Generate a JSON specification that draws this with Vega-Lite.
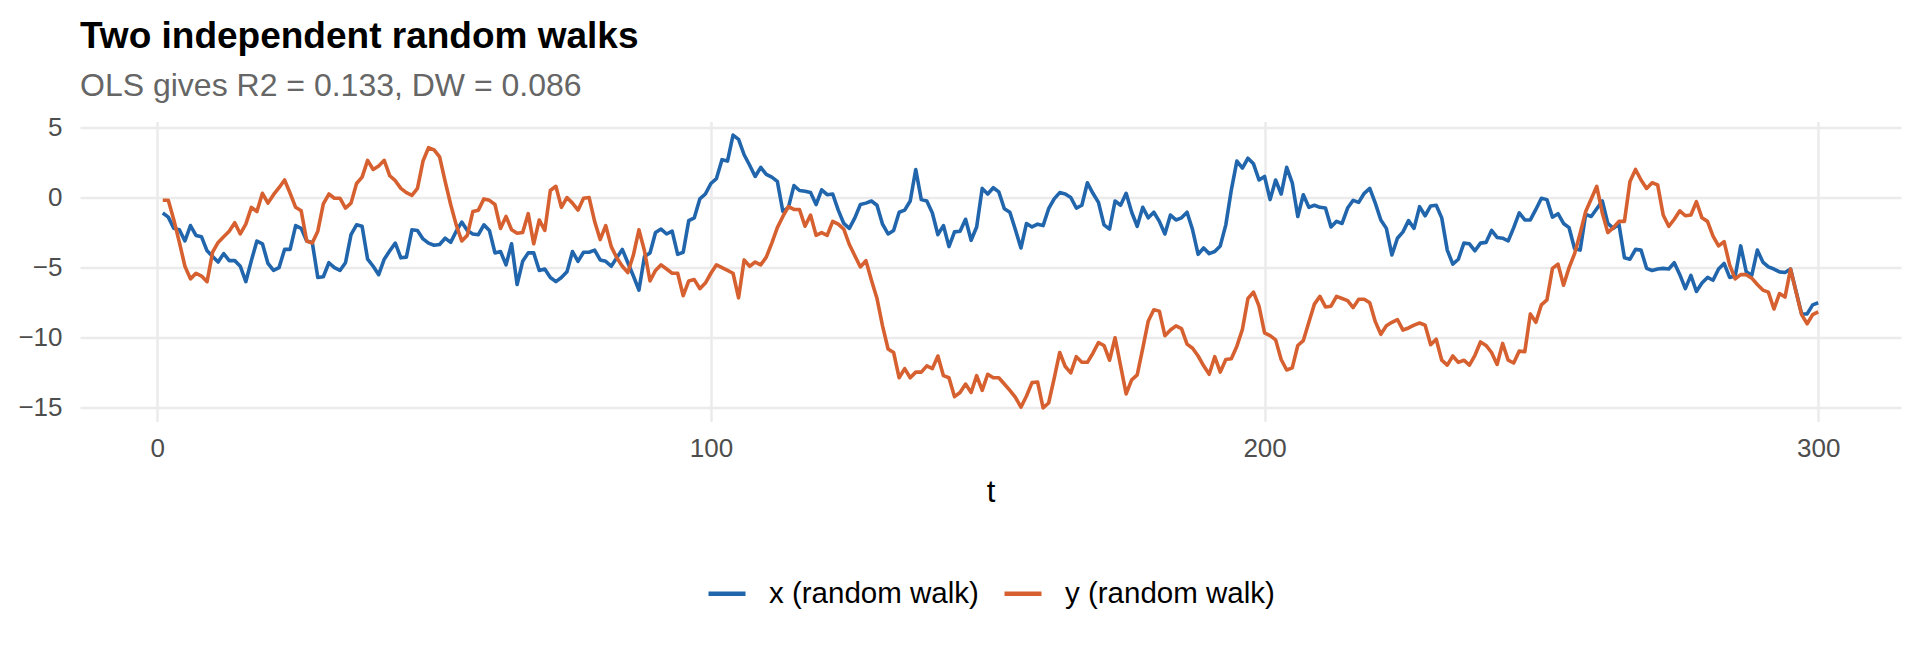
{
"$schema": "https://vega.github.io/schema/vega-lite/v6.json",
"width": 1821, "height": 300,
"autosize": {"type": "none"},
"padding": {"left": 80, "top": 121.5, "right": 19, "bottom": 230.5},
"background": "white",
"title": {"text": "Two independent random walks", "subtitle": "OLS gives R2 = 0.133, DW = 0.086", "anchor": "start", "frame": "group", "font": "Liberation Sans", "fontSize": 37, "fontWeight": "bold", "color": "#000000", "subtitleFont": "Liberation Sans", "subtitleFontSize": 32, "subtitleColor": "#666666", "subtitlePadding": 15, "offset": 11},
"data": {"values": [
{"t":1,"x":-1.1,"y":-0.2},{"t":2,"x":-1.4,"y":-0.2},{"t":3,"x":-2.2,"y":-1.6},{"t":4,"x":-2.3,"y":-3.2},{"t":5,"x":-3.1,"y":-4.9},
{"t":6,"x":-2.0,"y":-5.8},{"t":7,"x":-2.7,"y":-5.4},{"t":8,"x":-2.8,"y":-5.6},{"t":9,"x":-3.8,"y":-6.0},{"t":10,"x":-4.2,"y":-3.9},
{"t":11,"x":-4.6,"y":-3.2},{"t":12,"x":-4.0,"y":-2.8},{"t":13,"x":-4.5,"y":-2.4},{"t":14,"x":-4.5,"y":-1.8},{"t":15,"x":-4.9,"y":-2.6},
{"t":16,"x":-6.0,"y":-1.9},{"t":17,"x":-4.5,"y":-0.7},{"t":18,"x":-3.1,"y":-1.0},{"t":19,"x":-3.3,"y":0.3},{"t":20,"x":-4.7,"y":-0.4},
{"t":21,"x":-5.2,"y":0.2},{"t":22,"x":-5.0,"y":0.7},{"t":23,"x":-3.7,"y":1.25},{"t":24,"x":-3.7,"y":0.3},{"t":25,"x":-2.0,"y":-0.7},
{"t":26,"x":-2.2,"y":-0.95},{"t":27,"x":-3.1,"y":-3.1},{"t":28,"x":-3.2,"y":-3.25},{"t":29,"x":-5.7,"y":-2.4},{"t":30,"x":-5.65,"y":-0.45},
{"t":31,"x":-4.65,"y":0.25},{"t":32,"x":-5.0,"y":-0.05},{"t":33,"x":-5.2,"y":-0.05},{"t":34,"x":-4.65,"y":-0.75},{"t":35,"x":-2.65,"y":-0.4},
{"t":36,"x":-1.95,"y":1.0},{"t":37,"x":-2.05,"y":1.45},{"t":38,"x":-4.4,"y":2.65},{"t":39,"x":-4.9,"y":2.0},{"t":40,"x":-5.5,"y":2.25},
{"t":41,"x":-4.4,"y":2.65},{"t":42,"x":-3.8,"y":1.55},{"t":43,"x":-3.25,"y":1.2},{"t":44,"x":-4.3,"y":0.65},{"t":45,"x":-4.25,"y":0.35},
{"t":46,"x":-2.3,"y":0.15},{"t":47,"x":-2.35,"y":0.65},{"t":48,"x":-2.95,"y":2.6},{"t":49,"x":-3.25,"y":3.55},{"t":50,"x":-3.4,"y":3.4},
{"t":51,"x":-3.35,"y":2.9},{"t":52,"x":-2.9,"y":1.15},{"t":53,"x":-3.2,"y":-0.5},{"t":54,"x":-2.4,"y":-1.95},{"t":55,"x":-1.75,"y":-3.1},
{"t":56,"x":-2.35,"y":-2.7},{"t":57,"x":-2.6,"y":-1.0},{"t":58,"x":-2.65,"y":-0.9},{"t":59,"x":-1.95,"y":-0.1},{"t":60,"x":-2.35,"y":-0.2},
{"t":61,"x":-3.95,"y":-0.5},{"t":62,"x":-3.85,"y":-2.2},{"t":63,"x":-4.8,"y":-1.35},{"t":64,"x":-3.3,"y":-2.3},{"t":65,"x":-6.2,"y":-2.55},
{"t":66,"x":-4.55,"y":-2.5},{"t":67,"x":-3.95,"y":-1.15},{"t":68,"x":-3.95,"y":-3.3},{"t":69,"x":-5.2,"y":-1.6},{"t":70,"x":-5.1,"y":-2.35},
{"t":71,"x":-5.7,"y":0.5},{"t":72,"x":-6.0,"y":0.8},{"t":73,"x":-5.7,"y":-0.7},{"t":74,"x":-5.3,"y":0.0},{"t":75,"x":-3.85,"y":-0.4},
{"t":76,"x":-4.55,"y":-0.9},{"t":77,"x":-3.9,"y":-0.05},{"t":78,"x":-3.9,"y":0.0},{"t":79,"x":-3.75,"y":-1.7},{"t":80,"x":-4.45,"y":-3.0},
{"t":81,"x":-4.55,"y":-2.0},{"t":82,"x":-4.9,"y":-3.5},{"t":83,"x":-4.3,"y":-4.3},{"t":84,"x":-3.7,"y":-4.9},{"t":85,"x":-4.65,"y":-5.35},
{"t":86,"x":-5.6,"y":-4.1},{"t":87,"x":-6.6,"y":-2.3},{"t":88,"x":-4.2,"y":-3.8},{"t":89,"x":-3.95,"y":-5.95},{"t":90,"x":-2.5,"y":-5.2},
{"t":91,"x":-2.25,"y":-4.8},{"t":92,"x":-2.6,"y":-5.1},{"t":93,"x":-2.4,"y":-5.4},{"t":94,"x":-4.05,"y":-5.4},{"t":95,"x":-3.9,"y":-7.0},
{"t":96,"x":-1.65,"y":-5.95},{"t":97,"x":-1.45,"y":-5.85},{"t":98,"x":-0.1,"y":-6.5},{"t":99,"x":0.25,"y":-6.1},{"t":100,"x":1.0,"y":-5.4},
{"t":101,"x":1.35,"y":-4.8},{"t":102,"x":2.7,"y":-5.0},{"t":103,"x":2.6,"y":-5.2},{"t":104,"x":4.45,"y":-5.4},{"t":105,"x":4.15,"y":-7.15},
{"t":106,"x":3.05,"y":-4.45},{"t":107,"x":2.3,"y":-4.9},{"t":108,"x":1.5,"y":-4.6},{"t":109,"x":2.15,"y":-4.8},{"t":110,"x":1.65,"y":-4.25},
{"t":111,"x":1.45,"y":-3.25},{"t":112,"x":1.15,"y":-2.15},{"t":113,"x":-1.0,"y":-1.35},{"t":114,"x":-0.7,"y":-0.65},{"t":115,"x":0.85,"y":-0.85},
{"t":116,"x":0.5,"y":-0.85},{"t":117,"x":0.45,"y":-2.05},{"t":118,"x":0.35,"y":-1.25},{"t":119,"x":-0.5,"y":-2.7},{"t":120,"x":0.55,"y":-2.5},
{"t":121,"x":0.2,"y":-2.7},{"t":122,"x":0.25,"y":-1.7},{"t":123,"x":-0.9,"y":-1.9},{"t":124,"x":-1.85,"y":-2.25},{"t":125,"x":-2.2,"y":-3.35},
{"t":126,"x":-1.45,"y":-4.15},{"t":127,"x":-0.5,"y":-4.95},{"t":128,"x":-0.4,"y":-4.5},{"t":129,"x":-0.25,"y":-5.9},{"t":130,"x":-0.55,"y":-7.2},
{"t":131,"x":-1.9,"y":-9.15},{"t":132,"x":-2.6,"y":-10.8},{"t":133,"x":-2.35,"y":-11.05},{"t":134,"x":-1.05,"y":-12.85},{"t":135,"x":-0.9,"y":-12.2},
{"t":136,"x":-0.25,"y":-12.85},{"t":137,"x":2.0,"y":-12.45},{"t":138,"x":-0.15,"y":-12.45},{"t":139,"x":-0.25,"y":-12.0},{"t":140,"x":-1.1,"y":-12.2},
{"t":141,"x":-2.65,"y":-11.3},{"t":142,"x":-2.0,"y":-12.7},{"t":143,"x":-3.5,"y":-12.85},{"t":144,"x":-2.45,"y":-14.2},{"t":145,"x":-2.4,"y":-13.9},
{"t":146,"x":-1.55,"y":-13.3},{"t":147,"x":-3.05,"y":-13.9},{"t":148,"x":-2.1,"y":-12.7},{"t":149,"x":0.65,"y":-13.75},{"t":150,"x":0.25,"y":-12.6},
{"t":151,"x":0.7,"y":-12.85},{"t":152,"x":0.4,"y":-12.85},{"t":153,"x":-0.8,"y":-13.3},{"t":154,"x":-1.05,"y":-13.75},{"t":155,"x":-2.3,"y":-14.25},
{"t":156,"x":-3.6,"y":-14.95},{"t":157,"x":-1.85,"y":-14.15},{"t":158,"x":-2.1,"y":-13.2},{"t":159,"x":-1.9,"y":-13.15},{"t":160,"x":-2.0,"y":-15.0},
{"t":161,"x":-0.8,"y":-14.65},{"t":162,"x":-0.1,"y":-12.9},{"t":163,"x":0.35,"y":-11.05},{"t":164,"x":0.25,"y":-12.05},{"t":165,"x":0.0,"y":-12.5},
{"t":166,"x":-0.75,"y":-11.35},{"t":167,"x":-0.55,"y":-11.75},{"t":168,"x":1.05,"y":-11.75},{"t":169,"x":0.3,"y":-11.1},{"t":170,"x":-0.35,"y":-10.35},
{"t":171,"x":-1.95,"y":-10.55},{"t":172,"x":-2.25,"y":-11.6},{"t":173,"x":-0.25,"y":-10.0},{"t":174,"x":-0.55,"y":-12.0},{"t":175,"x":0.3,"y":-14.0},
{"t":176,"x":-1.05,"y":-13.0},{"t":177,"x":-2.05,"y":-12.65},{"t":178,"x":-0.7,"y":-10.75},{"t":179,"x":-1.45,"y":-8.8},{"t":180,"x":-1.05,"y":-8.0},
{"t":181,"x":-1.7,"y":-8.1},{"t":182,"x":-2.6,"y":-9.85},{"t":183,"x":-1.25,"y":-9.45},{"t":184,"x":-1.6,"y":-9.15},{"t":185,"x":-1.45,"y":-9.35},
{"t":186,"x":-1.05,"y":-10.45},{"t":187,"x":-2.3,"y":-10.75},{"t":188,"x":-4.05,"y":-11.3},{"t":189,"x":-3.6,"y":-12.0},{"t":190,"x":-4.0,"y":-12.6},
{"t":191,"x":-3.85,"y":-11.35},{"t":192,"x":-3.45,"y":-12.45},{"t":193,"x":-1.95,"y":-11.55},{"t":194,"x":0.55,"y":-11.5},{"t":195,"x":2.6,"y":-10.6},
{"t":196,"x":2.1,"y":-9.4},{"t":197,"x":2.8,"y":-7.2},{"t":198,"x":2.4,"y":-6.75},{"t":199,"x":1.25,"y":-7.75},{"t":200,"x":1.5,"y":-9.65},
{"t":201,"x":-0.15,"y":-9.85},{"t":202,"x":1.25,"y":-10.15},{"t":203,"x":0.25,"y":-11.55},{"t":204,"x":2.15,"y":-12.3},{"t":205,"x":1.05,"y":-12.15},
{"t":206,"x":-1.35,"y":-10.55},{"t":207,"x":0.2,"y":-10.2},{"t":208,"x":-0.7,"y":-8.9},{"t":209,"x":-0.55,"y":-7.6},{"t":210,"x":-0.7,"y":-7.05},
{"t":211,"x":-0.75,"y":-7.8},{"t":212,"x":-2.1,"y":-7.75},{"t":213,"x":-1.7,"y":-7.05},{"t":214,"x":-1.85,"y":-7.2},{"t":215,"x":-0.75,"y":-7.35},
{"t":216,"x":-0.2,"y":-7.85},{"t":217,"x":-0.35,"y":-7.25},{"t":218,"x":0.3,"y":-7.25},{"t":219,"x":0.65,"y":-7.5},{"t":220,"x":-0.4,"y":-8.85},
{"t":221,"x":-1.6,"y":-9.75},{"t":222,"x":-2.2,"y":-9.15},{"t":223,"x":-4.1,"y":-8.9},{"t":224,"x":-2.9,"y":-8.7},{"t":225,"x":-2.45,"y":-9.45},
{"t":226,"x":-1.65,"y":-9.3},{"t":227,"x":-2.2,"y":-9.1},{"t":228,"x":-0.65,"y":-8.95},{"t":229,"x":-1.3,"y":-9.1},{"t":230,"x":-0.6,"y":-10.5},
{"t":231,"x":-0.55,"y":-10.1},{"t":232,"x":-1.45,"y":-11.6},{"t":233,"x":-3.75,"y":-11.95},{"t":234,"x":-4.75,"y":-11.3},{"t":235,"x":-4.4,"y":-11.75},
{"t":236,"x":-3.25,"y":-11.6},{"t":237,"x":-3.3,"y":-11.95},{"t":238,"x":-3.8,"y":-11.25},{"t":239,"x":-3.25,"y":-10.3},{"t":240,"x":-3.2,"y":-10.55},
{"t":241,"x":-2.35,"y":-11.05},{"t":242,"x":-2.85,"y":-11.9},{"t":243,"x":-2.9,"y":-10.4},{"t":244,"x":-3.1,"y":-11.6},{"t":245,"x":-2.15,"y":-11.8},
{"t":246,"x":-1.1,"y":-10.95},{"t":247,"x":-1.6,"y":-11.0},{"t":248,"x":-1.6,"y":-8.3},{"t":249,"x":-0.85,"y":-8.9},{"t":250,"x":-0.05,"y":-7.65},
{"t":251,"x":-0.15,"y":-7.3},{"t":252,"x":-1.4,"y":-5.05},{"t":253,"x":-1.15,"y":-4.75},{"t":254,"x":-1.85,"y":-6.25},{"t":255,"x":-2.15,"y":-5.0},
{"t":256,"x":-3.65,"y":-4.0},{"t":257,"x":-3.75,"y":-2.55},{"t":258,"x":-1.2,"y":-1.0},{"t":259,"x":-1.35,"y":-0.1},{"t":260,"x":-0.8,"y":0.8},
{"t":261,"x":-0.25,"y":-1.1},{"t":262,"x":-1.85,"y":-2.5},{"t":263,"x":-2.2,"y":-2.15},{"t":264,"x":-1.9,"y":-1.7},{"t":265,"x":-4.3,"y":-1.7},
{"t":266,"x":-4.4,"y":1.15},{"t":267,"x":-3.7,"y":2.0},{"t":268,"x":-3.75,"y":1.25},{"t":269,"x":-5.05,"y":0.65},{"t":270,"x":-5.2,"y":1.05},
{"t":271,"x":-5.1,"y":0.9},{"t":272,"x":-5.05,"y":-1.25},{"t":273,"x":-5.1,"y":-2.05},{"t":274,"x":-4.65,"y":-1.55},{"t":275,"x":-5.5,"y":-0.95},
{"t":276,"x":-6.5,"y":-1.3},{"t":277,"x":-5.55,"y":-1.25},{"t":278,"x":-6.7,"y":-0.3},{"t":279,"x":-6.1,"y":-1.45},{"t":280,"x":-5.7,"y":-1.7},
{"t":281,"x":-5.9,"y":-2.75},{"t":282,"x":-5.1,"y":-3.45},{"t":283,"x":-4.7,"y":-3.15},{"t":284,"x":-5.7,"y":-4.8},{"t":285,"x":-5.6,"y":-5.8},
{"t":286,"x":-3.45,"y":-5.5},{"t":287,"x":-5.3,"y":-5.5},{"t":288,"x":-5.55,"y":-5.75},{"t":289,"x":-3.75,"y":-6.2},{"t":290,"x":-4.6,"y":-6.6},
{"t":291,"x":-4.95,"y":-6.75},{"t":292,"x":-5.1,"y":-7.95},{"t":293,"x":-5.3,"y":-6.85},{"t":294,"x":-5.35,"y":-7.1},{"t":295,"x":-5.1,"y":-5.1},
{"t":296,"x":-6.7,"y":-6.75},{"t":297,"x":-8.3,"y":-8.35},{"t":298,"x":-8.3,"y":-9.0},{"t":299,"x":-7.65,"y":-8.35},{"t":300,"x":-7.5,"y":-8.15}
]},
"transform": [{"fold": ["x", "y"], "as": ["series", "value"]}],
"mark": {"type": "line", "strokeWidth": 3.6, "strokeJoin": "round"},
"encoding": {
  "x": {"field": "t", "type": "quantitative", "scale": {"domain": [-13.95, 314.95], "nice": false, "zero": false},
        "axis": {"values": [0, 100, 200, 300], "title": "t", "labelPadding": 14, "titlePadding": 16, "format": "d"}},
  "y": {"field": "value", "type": "quantitative", "scale": {"domain": [-15.97, 5.42], "nice": false, "zero": false},
        "axis": {"values": [-15, -10, -5, 0, 5], "title": null, "labelPadding": 18, "format": "d"}},
  "color": {"field": "series", "type": "nominal", "sort": ["x", "y"],
            "scale": {"domain": ["x", "y"], "range": ["#2166AC", "#D6602F"]},
            "legend": {"title": null, "orient": "none", "legendX": 626, "legendY": 451, "direction": "horizontal",
                       "symbolType": "stroke", "symbolSize": 1369, "symbolStrokeWidth": 4.5,
                       "labelFont": "Liberation Sans", "labelFontSize": 29.5, "labelColor": "#000000", "labelLimit": 0,
                       "labelOffset": 21, "columnPadding": 16,
                       "labelExpr": "datum.value == 'x' ? 'x (random walk)' : 'y (random walk)'"}}
},
"config": {
  "view": {"stroke": null},
  "axis": {"domain": false, "ticks": false, "tickSize": 0, "grid": true, "gridColor": "#EBEBEB", "gridWidth": 2.5,
           "labelFont": "Liberation Sans", "labelFontSize": 26, "labelColor": "#4D4D4D",
           "titleFont": "Liberation Sans", "titleFontSize": 31, "titleColor": "#000000", "titleFontWeight": "normal"}
}
}
